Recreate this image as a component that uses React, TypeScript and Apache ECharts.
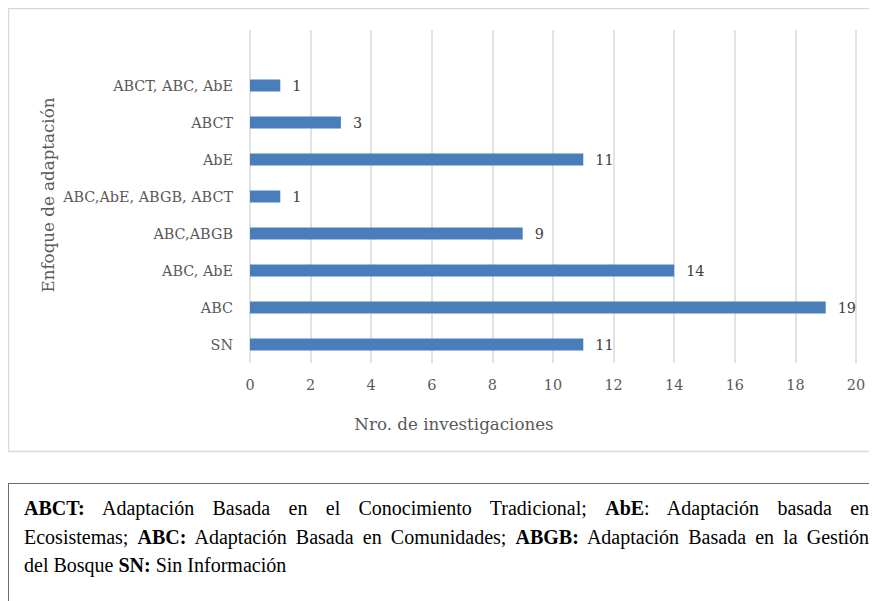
import React, { useEffect, useRef } from "react";
import * as echarts from "echarts";

// Categories listed bottom-to-top; the last (blank) row leaves the empty top band.
const categories = [
  "SN",
  "ABC",
  "ABC, AbE",
  "ABC,ABGB",
  "ABC,AbE, ABGB, ABCT",
  "AbE",
  "ABCT",
  "ABCT, ABC, AbE",
  "",
];
const investigaciones: (number | null)[] = [11, 19, 14, 9, 1, 11, 3, 1, null];
const xTicks = { min: 0, max: 20, interval: 2 };

const CHART_FONT = "'DejaVu Serif', serif";
const NOTE_FONT = "'Liberation Serif', 'Times New Roman', serif";
const AXIS_GRAY = "#595959";

export default function App() {
  const ref = useRef<HTMLDivElement>(null);

  useEffect(() => {
    document.documentElement.style.overflow = "hidden";
    document.body.style.overflow = "hidden";
    if (!ref.current) return;
    const chart = echarts.init(ref.current, null, { renderer: "svg" });
    chart.setOption({
      animation: false,
      backgroundColor: "#ffffff",
      grid: { left: 242, right: 29, top: 22, bottom: 90, containLabel: false },
      xAxis: {
        type: "value",
        min: xTicks.min,
        max: xTicks.max,
        interval: xTicks.interval,
        axisLine: { show: false },
        axisTick: { show: false },
        splitLine: { show: true, lineStyle: { color: "#d9d9d9", width: 1.5 } },
        axisLabel: {
          color: AXIS_GRAY,
          fontFamily: CHART_FONT,
          fontSize: 14.4,
          margin: 15,
        },
      },
      yAxis: {
        type: "category",
        data: categories,
        axisLine: { show: false },
        axisTick: { show: false },
        splitLine: { show: false },
        axisLabel: {
          color: AXIS_GRAY,
          fontFamily: CHART_FONT,
          fontSize: 14.4,
          margin: 17,
        },
      },
      series: [
        {
          type: "bar",
          data: investigaciones,
          barWidth: 12,
          itemStyle: { color: "#4a7ebb" },
          label: {
            show: true,
            position: "right",
            distance: 12,
            color: "#404040",
            fontFamily: CHART_FONT,
            fontSize: 14.4,
          },
        },
      ],
      graphic: [
        {
          type: "rect",
          shape: { x: 0.5, y: 0.5, width: 874, height: 443 },
          style: { fill: "none", stroke: "#d9d9d9", lineWidth: 1.5 },
          silent: true,
        },
        {
          type: "text",
          x: 446,
          y: 416,
          style: {
            text: "Nro. de investigaciones",
            fill: AXIS_GRAY,
            font: `16.7px ${CHART_FONT}`,
            align: "center",
            verticalAlign: "middle",
          },
        },
        {
          type: "text",
          x: 40,
          y: 187,
          rotation: Math.PI / 2,
          style: {
            text: "Enfoque de adaptación",
            fill: AXIS_GRAY,
            font: `16.7px ${CHART_FONT}`,
            align: "center",
            verticalAlign: "middle",
          },
        },
      ],
    });
    return () => chart.dispose();
  }, []);

  const b: React.CSSProperties = { fontWeight: "bold" };
  const fullLine: React.CSSProperties = { textAlign: "justify", textAlignLast: "justify" };

  return (
    <div style={{ width: 861 }}>
      <div ref={ref} style={{ width: 877, height: 445 }} />
      <div
        style={{
          marginTop: 30,
          width: 872,
          height: 130,
          boxSizing: "border-box",
          border: "1px solid #6b6b6b",
          padding: "10px 10px 0 15px",
          fontFamily: NOTE_FONT,
          fontSize: 20,
          lineHeight: "28.5px",
          color: "#000",
          whiteSpace: "nowrap",
        }}
      >
        <div style={fullLine}>
          <span style={b}>ABCT:</span> Adaptación Basada en el Conocimiento Tradicional;{" "}
          <span style={b}>AbE</span>: Adaptación basada en
        </div>
        <div style={fullLine}>
          Ecosistemas; <span style={b}>ABC:</span> Adaptación Basada en Comunidades;{" "}
          <span style={b}>ABGB:</span> Adaptación Basada en la Gestión
        </div>
        <div>
          del Bosque <span style={b}>SN:</span> Sin Información
        </div>
      </div>
    </div>
  );
}
